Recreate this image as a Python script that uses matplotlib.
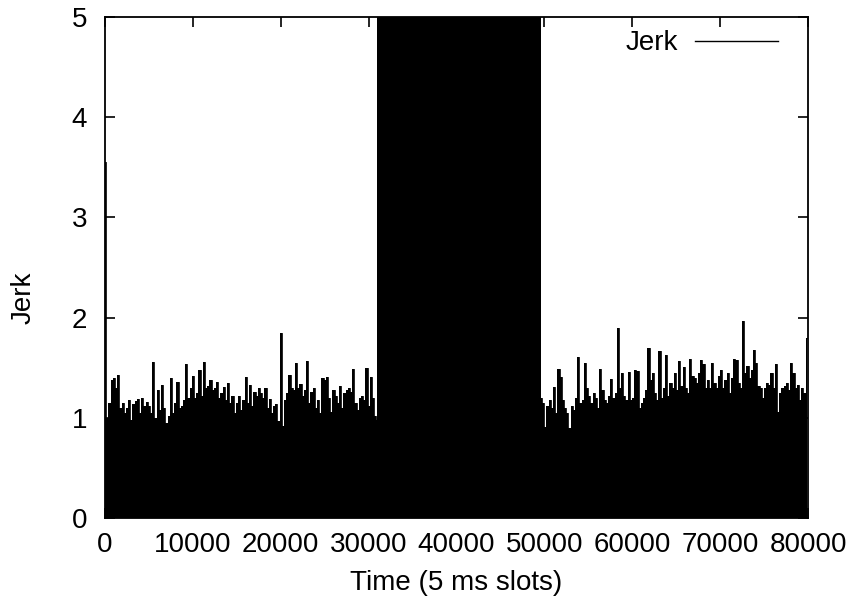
import numpy as np
import matplotlib.pyplot as plt

plt.rcParams['font.family'] = ['Liberation Sans', 'DejaVu Sans']

# sample spacing of the envelope readings (5 ms slots)
step = 250

# upper envelope of jerk before the disturbance, x = 0, 250, ... 31000
left_vals = [
    3.55, 1.00, 1.15, 1.38, 1.40, 1.30, 1.43, 1.10, 1.15, 1.05,
    1.10, 1.18, 0.98, 1.14, 1.17, 1.19, 1.05, 1.20, 1.12, 1.16,
    1.12, 1.05, 1.56, 1.00, 1.28, 1.08, 1.33, 1.10, 0.95, 1.02,
    1.40, 1.05, 1.15, 1.36, 1.10, 1.12, 1.18, 1.54, 1.20, 1.30,
    1.42, 1.20, 1.25, 1.48, 1.22, 1.56, 1.30, 1.32, 1.38, 1.28,
    1.30, 1.36, 1.20, 1.25, 1.31, 1.18, 1.35, 1.15, 1.22, 1.05,
    1.15, 1.22, 1.08, 1.18, 1.41, 1.15, 1.33, 1.12, 1.26, 1.22,
    1.30, 1.25, 1.20, 1.30, 1.10, 1.19, 1.05, 1.12, 1.14, 0.97,
    1.85, 0.92, 1.18, 1.25, 1.43, 1.30, 1.28, 1.55, 1.30, 1.34,
    1.22, 1.28, 1.57, 1.15, 1.26, 1.30, 1.10, 1.18, 1.05, 1.40,
    1.38, 1.41, 1.20, 1.06, 1.28, 1.22, 1.15, 1.32, 1.10, 1.25,
    1.28, 1.30, 1.26, 1.49, 1.15, 1.08, 1.20, 1.22, 1.18, 1.50,
    1.12, 1.41, 1.20, 1.02, 0.98,
]
left_start = 0

# disturbance: jerk far above the plotted range
mid_start = 31000
mid_end = 49600
mid_level = 20.0

# upper envelope after the disturbance, x = 49600, 49850, ... 79850
right_vals = [
    1.20, 1.15, 0.91, 1.12, 1.18, 1.10, 1.31, 1.05, 1.49, 1.41,
    1.18, 1.10, 1.05, 0.90, 1.12, 1.08, 1.20, 1.61, 1.15, 1.18,
    1.55, 1.30, 1.22, 1.15, 1.25, 1.20, 1.10, 1.49, 1.28, 1.18,
    1.15, 1.22, 1.39, 1.20, 1.25, 1.90, 1.30, 1.45, 1.22, 1.18,
    1.46, 1.18, 1.20, 1.48, 1.47, 1.10, 1.15, 1.20, 1.28, 1.70,
    1.38, 1.45, 1.25, 1.18, 1.67, 1.20, 1.30, 1.63, 1.22, 1.35,
    1.30, 1.45, 1.28, 1.57, 1.32, 1.51, 1.30, 1.25, 1.59, 1.42,
    1.40, 1.35, 1.45, 1.58, 1.54, 1.30, 1.38, 1.30, 1.55, 1.35,
    1.30, 1.42, 1.48, 1.30, 1.38, 1.45, 1.25, 1.40, 1.59, 1.58,
    1.35, 1.30, 1.97, 1.45, 1.52, 1.40, 1.48, 1.68, 1.55, 1.32,
    1.30, 1.20, 1.30, 1.35, 1.33, 1.45, 1.30, 1.54, 1.06, 1.25,
    1.30, 1.32, 1.35, 1.28, 1.55, 1.45, 1.30, 1.33, 1.18, 1.30,
    1.25, 1.80,
]
right_start = 49600

xticks = [0, 10000, 20000, 30000, 40000, 50000, 60000, 70000, 80000]
yticks = [0, 1, 2, 3, 4, 5]

left_x = left_start + step * np.arange(len(left_vals))
right_x = right_start + step * np.arange(len(right_vals))

fig = plt.figure(figsize=(8.56, 6.04), dpi=100)
ax = fig.add_axes([0.1227, 0.1424, 0.8213, 0.8295])

ax.fill_between(left_x, 0, left_vals, step='mid', color='black', lw=0)
ax.fill_between([mid_start, mid_end], 0, [mid_level, mid_level], color='black', lw=0)
ax.fill_between(right_x, 0, right_vals, step='mid', color='black', lw=0)
line, = ax.plot(left_x, left_vals, color='black', lw=0.6, drawstyle='steps-mid')
ax.plot(right_x, right_vals, color='black', lw=0.6, drawstyle='steps-mid')

ax.set_xlim(0, 80000)
ax.set_ylim(0, 5)
ax.set_xticks(xticks)
ax.set_yticks(yticks)
ax.tick_params(direction='in', length=7, width=1.2, top=True, right=True,
               labelsize=20)
ax.tick_params(axis='x', pad=10)
ax.tick_params(axis='y', pad=13)
for s in ax.spines.values():
    s.set_linewidth(1.3)

ax.set_xlabel('Time (5 ms slots)', fontsize=20, labelpad=9)
ax.set_ylabel('Jerk', fontsize=20)
ax.yaxis.set_label_coords(-0.098, 0.44)

leg = ax.legend([line], ['Jerk'], loc='upper right', frameon=False,
                markerfirst=False, fontsize=20, handlelength=3.0,
                handletextpad=0.6, borderaxespad=0.3,
                bbox_to_anchor=(0.985, 1.012))
for h in leg.get_lines():
    h.set_linewidth(1.0)

fig.savefig('out.png', dpi=100)
